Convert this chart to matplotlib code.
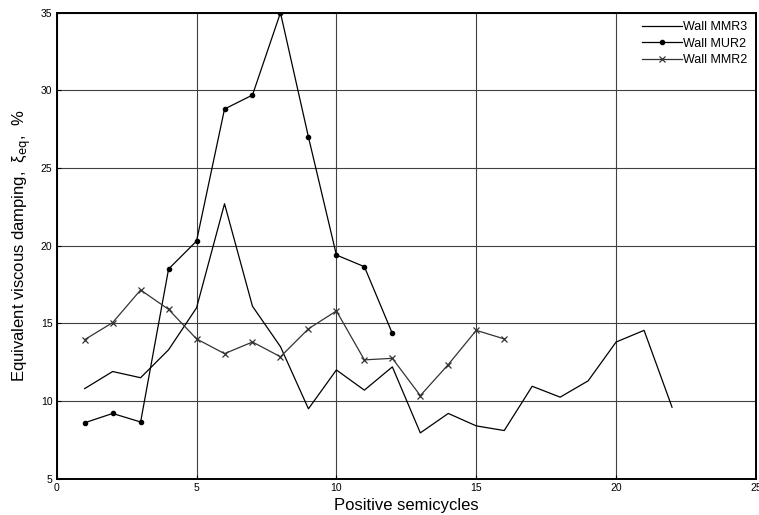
import matplotlib.pyplot as plt

plt.rcParams['font.family'] = ['Liberation Sans', 'DejaVu Sans']

# Werte
x_mmr3 = list(range(1, 23))
y_mmr3 = [10.8, 11.9, 11.5, 13.3, 16.0, 22.7, 16.1, 13.5, 9.5, 12.0, 10.7,
          12.2, 7.95, 9.2, 8.4, 8.1, 10.95, 10.25, 11.3, 13.8, 14.55, 9.6]

x_mur2 = list(range(1, 13))
y_mur2 = [8.6, 9.2, 8.65, 18.5, 20.3, 28.8, 29.7, 35.0, 27.0, 19.4, 18.65, 14.35]

x_mmr2 = list(range(1, 17))
y_mmr2 = [13.95, 15.05, 17.15, 15.9, 14.0, 13.05, 13.8, 12.85, 14.65, 15.8,
          12.65, 12.75, 10.35, 12.35, 14.55, 14.0]

xticks = [0, 5, 10, 15, 20, 25]
yticks = [5, 10, 15, 20, 25, 30, 35]

fig = plt.figure(figsize=(7.59, 5.15), dpi=100)
ax = fig.add_axes([0.0747, 0.0705, 0.9213, 0.9048])

ax.plot(x_mmr3, y_mmr3, color='black', lw=0.9, label='Wall MMR3')
ax.plot(x_mur2, y_mur2, color='black', lw=0.9, marker='o', ms=3, label='Wall MUR2')
ax.plot(x_mmr2, y_mmr2, color='#333333', lw=0.9, marker='x', ms=4, mew=0.9,
        label='Wall MMR2')

ax.set_xlim(0, 25)
ax.set_ylim(5, 35)
ax.set_xticks(xticks)
ax.set_yticks(yticks)
ax.grid(True, color='#404040', lw=0.8, ls='-')
ax.set_axisbelow(True)
ax.tick_params(direction='in', length=3, labelsize=7.5, pad=3)
for s in ax.spines.values():
    s.set_linewidth(1.4)

ax.set_xlabel('Positive semicycles', fontsize=12, labelpad=4)
ax.set_ylabel('Equivalent viscous damping,  ξ$_{\\mathrm{eq}}$,  %', fontsize=12, labelpad=6)

ax.legend(loc='upper right', frameon=False, fontsize=9, handlelength=3.2,
          borderaxespad=0.3, labelspacing=0.35, handletextpad=0.1)

fig.savefig('out.png', dpi=100)
